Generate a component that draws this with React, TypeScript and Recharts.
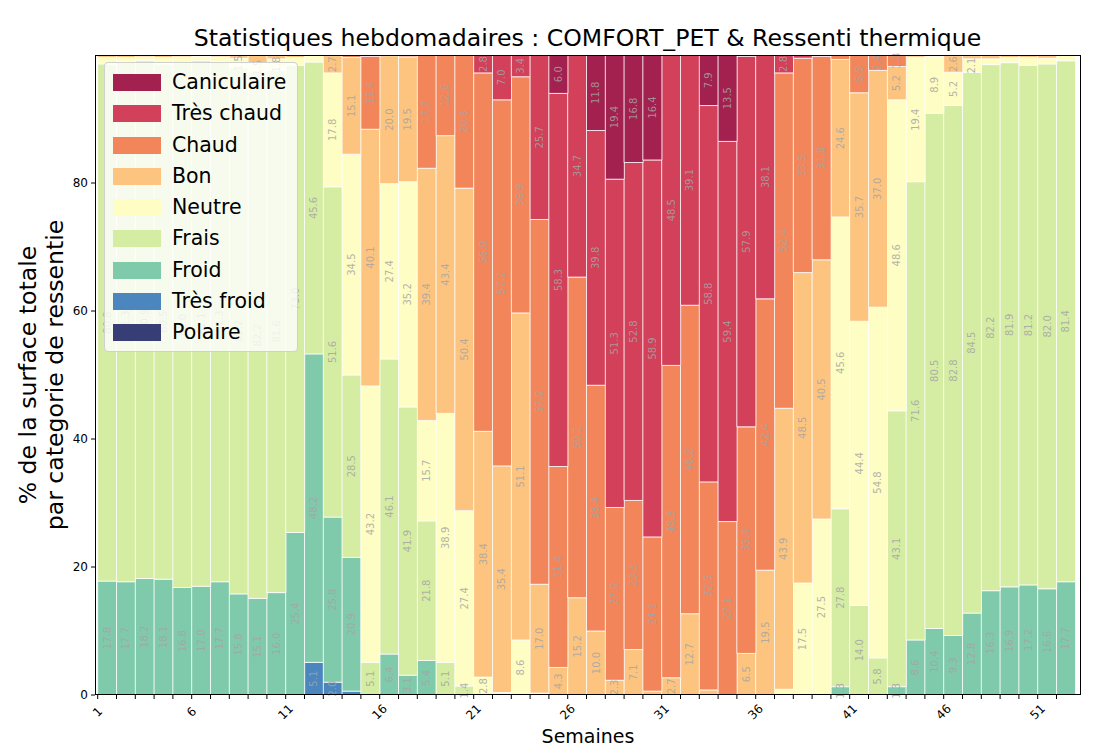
import React from "react";
import { BarChart, Bar, XAxis, YAxis, LabelList, Legend } from "recharts";

const weeks = [
  1, 2, 3, 4, 5, 6, 7, 8, 9, 10, 11, 12, 13, 14, 15, 16, 17, 18, 19, 20, 21, 22, 23, 24, 25, 26,
  27, 28, 29, 30, 31, 32, 33, 34, 35, 36, 37, 38, 39, 40, 41, 42, 43, 44, 45, 46, 47, 48, 49, 50, 51, 52,
];

// bottom -> top
const categories = ["Polaire", "Très froid", "Froid", "Frais", "Neutre", "Bon", "Chaud", "Très chaud", "Caniculaire"];

const colors: Record<string, string> = {
  Polaire: "#373e76",
  "Très froid": "#4b86bf",
  Froid: "#80caac",
  Frais: "#d5eca3",
  Neutre: "#fefdc3",
  Bon: "#fdc47f",
  Chaud: "#f2865a",
  "Très chaud": "#d2405a",
  Caniculaire: "#a3214f",
};

const polaire = [
  0, 0, 0, 0, 0, 0, 0, 0, 0, 0, 0, 0, 0, 0, 0, 0, 0, 0, 0, 0, 0, 0, 0, 0, 0, 0,
  0, 0, 0, 0, 0, 0, 0, 0, 0, 0, 0, 0, 0, 0, 0, 0, 0, 0, 0, 0, 0, 0, 0, 0, 0, 0,
];
const tresFroid = [
  0, 0, 0, 0, 0, 0, 0, 0, 0, 0, 0, 5.1, 2.0, 0.6, 0, 0, 0, 0, 0, 0, 0, 0, 0, 0, 0, 0,
  0, 0, 0, 0, 0, 0, 0, 0, 0, 0, 0, 0, 0, 0, 0, 0, 0, 0, 0, 0, 0, 0, 0, 0, 0, 0,
];
const froid = [
  17.8, 17.7, 18.2, 18.1, 16.8, 17.0, 17.7, 15.8, 15.1, 16.0, 25.4, 48.2, 25.8, 20.9, 0, 6.4, 3.1, 5.4, 0, 0, 0, 0, 0, 0, 0, 0,
  0, 0, 0, 0, 0, 0, 0, 0, 0, 0, 0, 0, 0, 1.3, 0, 0, 1.3, 8.6, 10.4, 9.3, 12.8, 16.3, 16.9, 17.2, 16.6, 17.7,
];
const frais = [
  80.8, 81.3, 80.9, 80.5, 82.0, 82.1, 81.3, 82.2, 82.2, 81.6, 73.0, 45.6, 51.6, 28.5, 5.1, 46.1, 41.9, 21.8, 5.1, 1.4, 0, 0, 0, 0, 0, 0,
  0, 0, 0, 0, 0, 0, 0, 0, 0, 0, 0, 0, 0, 27.8, 14.0, 5.8, 43.1, 71.6, 80.5, 82.8, 84.5, 82.2, 81.9, 81.2, 82.0, 81.4,
];
const neutre = [
  1.0, 0.6, 0.6, 1.0, 0.9, 0.7, 0.7, 1.5, 1.5, 1.8, 1.2, 1.1, 17.8, 34.5, 43.2, 27.4, 35.2, 15.7, 38.9, 27.4, 2.8, 0.4, 8.6, 0.3, 0, 0,
  0, 0, 0, 0, 0, 0, 0, 0, 0, 0, 0.9, 17.5, 27.5, 45.6, 44.4, 54.8, 48.6, 19.4, 8.9, 5.2, 2.1, 0.9, 0.8, 1.2, 0.9, 0.9,
];
const bon = [
  0.4, 0.4, 0.3, 0.4, 0.3, 0.2, 0.3, 0.5, 1.2, 0.6, 0.4, 0, 2.7, 15.1, 40.1, 20.0, 19.5, 39.4, 43.4, 50.4, 38.4, 35.4, 51.1, 17.0, 4.3, 15.2,
  10.0, 2.3, 7.1, 0.6, 2.7, 12.7, 0.8, 0, 6.5, 19.5, 43.9, 48.5, 40.5, 24.6, 35.7, 37.0, 5.2, 0.3, 0.2, 2.6, 0.5, 0.6, 0.4, 0.4, 0.5, 0,
];
const chaud = [
  0, 0, 0, 0, 0, 0, 0, 0, 0, 0, 0, 0, 0, 0.4, 11.4, 0.1, 0.3, 17.7, 12.6, 20.8, 56.0, 57.2, 36.9, 57.0, 31.4, 50.1,
  38.4, 27.0, 23.3, 24.1, 48.8, 48.2, 32.5, 27.1, 35.4, 42.4, 52.4, 33.5, 31.8, 0.7, 5.9, 2.4, 1.8, 0.1, 0, 0, 0, 0, 0, 0, 0, 0,
];
const tresChaud = [
  0, 0, 0, 0, 0, 0, 0, 0, 0, 0, 0, 0, 0, 0, 0.2, 0, 0, 0, 0, 0, 2.8, 7.0, 3.4, 25.7, 58.3, 34.7,
  39.8, 51.3, 52.8, 58.9, 48.5, 39.1, 58.8, 59.4, 57.9, 38.1, 2.8, 0.5, 0.2, 0, 0, 0, 0, 0, 0, 0, 0, 0, 0, 0, 0, 0,
];
const caniculaire = [
  0, 0, 0, 0, 0, 0, 0, 0, 0, 0, 0, 0, 0, 0, 0, 0, 0, 0, 0, 0, 0, 0, 0, 0, 6.0, 0,
  11.8, 19.4, 16.8, 16.4, 0, 0, 7.9, 13.5, 0.2, 0, 0, 0, 0, 0, 0, 0, 0, 0, 0, 0, 0, 0, 0, 0, 0, 0,
];

const yTicks = [0, 20, 40, 60, 80];

const series: Record<string, number[]> = {
  Polaire: polaire,
  "Très froid": tresFroid,
  Froid: froid,
  Frais: frais,
  Neutre: neutre,
  Bon: bon,
  Chaud: chaud,
  "Très chaud": tresChaud,
  Caniculaire: caniculaire,
};

const data = weeks.map((w, i) => {
  const row: Record<string, number> = { week: w };
  categories.forEach((c) => (row[c] = series[c][i]));
  return row;
});

const FONT = "DejaVu Sans, sans-serif";
const PLOT_L = 95;
const PLOT_T = 55;
const PLOT_W = 986;
const PLOT_H = 640;
const PAD_L = 2.7;
const PAD_R = 5.7;
const BAND = (PLOT_W - PAD_L - PAD_R) / weeks.length;

const SegLabel = (props: any) => {
  const { x, y, width, height, value } = props;
  const v = Number(value);
  if (!v || v < 1.3) return null;
  const cx = Number(x) + Number(width) / 2;
  const cy = Number(y) + Number(height) / 2;
  return (
    <text
      x={cx}
      y={cy}
      transform={`rotate(-90 ${cx} ${cy})`}
      textAnchor="middle"
      dominantBaseline="central"
      fontSize={10}
      fontFamily={FONT}
      fill="#a4a4a4"
      fillOpacity={0.85}
    >
      {v.toFixed(1)}
    </text>
  );
};

const WeekTick = (props: any) => {
  const { x, y, payload } = props;
  const ex = x - BAND / 2;
  const show = payload.value % 5 === 1;
  const ly = y + 17;
  return (
    <g>
      <line x1={ex} x2={ex} y1={y} y2={y + 4} stroke="#000" strokeWidth={1} />
      {show && (
        <text
          x={ex}
          y={ly}
          textAnchor="middle"
          dominantBaseline="central"
          transform={`rotate(-45 ${ex} ${ly})`}
          fontSize={12}
          fontFamily={FONT}
          fill="#000"
        >
          {payload.value}
        </text>
      )}
    </g>
  );
};

const LegendBox = () => (
  <div
    style={{
      width: 194,
      height: 290,
      boxSizing: "border-box",
      background: "rgba(255,255,255,0.8)",
      border: "1px solid #d0d0d0",
      borderRadius: 4,
      position: "relative",
      fontFamily: FONT,
    }}
  >
    {[...categories].reverse().map((c, i) => (
      <div key={c} style={{ position: "absolute", left: 0, top: 19 + i * 31.25 - 12, height: 24, width: 194 }}>
        <div style={{ position: "absolute", left: 8, top: 4, width: 48, height: 17, background: colors[c] }} />
        <div style={{ position: "absolute", left: 67, top: 0, fontSize: 20.5, lineHeight: "24px", color: "#000", whiteSpace: "nowrap" }}>
          {c}
        </div>
      </div>
    ))}
  </div>
);

export default function App() {
  return (
    <div style={{ position: "absolute", left: 0, top: 0, width: 1095, height: 749, background: "#fff", fontFamily: FONT }}>
      <BarChart
        width={1095}
        height={749}
        data={data}
        margin={{ top: PLOT_T, right: 1095 - PLOT_L - PLOT_W, bottom: 0, left: 0 }}
        barCategoryGap={0}
        barGap={0}
      >
        <XAxis
          dataKey="week"
          type="category"
          height={749 - PLOT_T - PLOT_H}
          padding={{ left: PAD_L, right: PAD_R }}
          axisLine={false}
          tickLine={false}
          tickSize={0}
          tickMargin={0}
          interval={0}
          tick={<WeekTick />}
        />
        <YAxis
          type="number"
          domain={[0, 100]}
          ticks={yTicks}
          width={PLOT_L}
          axisLine={false}
          tickSize={4}
          tickMargin={3}
          tickLine={{ stroke: "#000" }}
          tick={{ fontSize: 12, fill: "#000", fontFamily: FONT }}
          allowDataOverflow
        />
        {categories.map((c) => (
          <Bar
            key={c}
            dataKey={c}
            stackId="s"
            fill={colors[c]}
            stroke="rgba(255,255,255,0.75)"
            strokeWidth={1}
            isAnimationActive={false}
          >
            <LabelList dataKey={c} content={<SegLabel />} />
          </Bar>
        ))}
        <Legend
          layout="vertical"
          align="center"
          verticalAlign="middle"
          content={<LegendBox />}
          wrapperStyle={{ left: 104, top: 62, width: 194, height: 290 }}
        />
      </BarChart>
      <div
        style={{
          position: "absolute",
          left: PLOT_L,
          top: PLOT_T,
          width: PLOT_W,
          height: PLOT_H,
          border: "1px solid #000",
          boxSizing: "border-box",
          pointerEvents: "none",
        }}
      />
      <div style={{ position: "absolute", left: 0, width: 1175, top: 23, textAlign: "center", fontSize: 23.6, lineHeight: "30px", color: "#000" }}>
        Statistiques hebdomadaires : COMFORT_PET &amp; Ressenti thermique
      </div>
      <div style={{ position: "absolute", left: PLOT_L, width: PLOT_W, top: 724, textAlign: "center", fontSize: 19, lineHeight: "24px", color: "#000" }}>
        Semaines
      </div>
      <div
        style={{
          position: "absolute",
          left: 42,
          top: 375,
          width: 420,
          transform: "translate(-50%, -50%) rotate(-90deg)",
          textAlign: "center",
          fontSize: 23.6,
          lineHeight: "27px",
          color: "#000",
        }}
      >
        % de la surface totale
        <br />
        par categorie de ressentie
      </div>
    </div>
  );
}
